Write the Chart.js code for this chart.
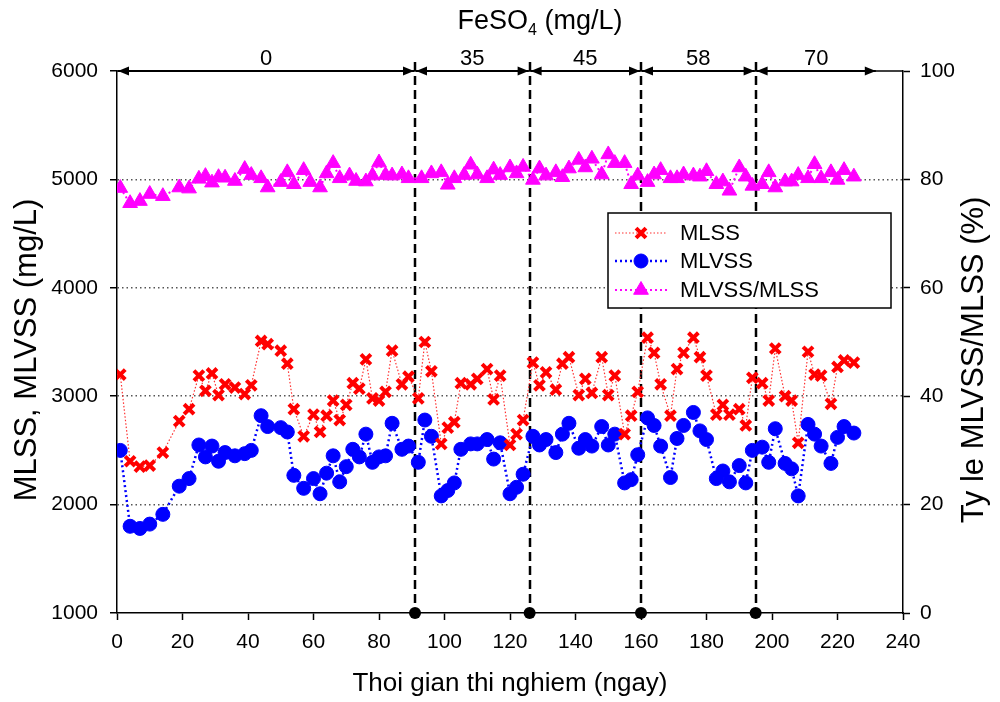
<!DOCTYPE html>
<html>
<head>
<meta charset="utf-8">
<title>MLSS, MLVSS - FeSO4</title>
<script src="https://cdn.jsdelivr.net/npm/chart.js@4/dist/chart.umd.min.js"></script>
<style>
    html, body { margin: 0; padding: 0; background: #fff; }
    #wrap { width: 1000px; height: 702px; position: relative; }
</style>
</head>
<body>
<div id="wrap"><canvas id="chart"></canvas></div>
<script>
// Du lieu doc tu hinh (ngay, mg/L)
const days = [1, 4, 7, 10, 14, 19, 22, 25, 27, 29, 31, 33, 36, 39, 41, 44, 46, 50, 52, 54,
    57, 60, 62, 64, 66, 68, 70, 72, 74, 76, 78, 80, 82, 84, 87, 89, 92, 94, 96, 99,
    101, 103, 105, 108, 110, 113, 115, 117, 120, 122, 124, 127, 129, 131, 134, 136, 138, 141, 143, 145,
    148, 150, 152, 155, 157, 159, 162, 164, 166, 169, 171, 173, 176, 178, 180, 183, 185, 187, 190, 192,
    194, 197, 199, 201, 204, 206, 208, 211, 213, 215, 218, 220, 222, 225];

const mlss = [3200, 2400, 2350, 2360, 2480, 2770, 2880, 3190, 3050, 3210, 3010, 3110, 3080, 3020, 3100, 3510, 3480, 3420, 3300, 2880,
    2630, 2830, 2670, 2820, 2960, 2780, 2920, 3120, 3070, 3340, 2980, 2960, 3040, 3420, 3110, 3180, 2980, 3500, 3230, 2560,
    2710, 2760, 3120, 3110, 3160, 3250, 2970, 3190, 2550, 2650, 2780, 3310, 3100, 3220, 3060, 3300, 3360, 3010, 3160, 3030,
    3360, 3010, 3190, 2650, 2820, 3040, 3540, 3400, 3110, 2820, 3250, 3400, 3540, 3360, 3190, 2830, 2920, 2830, 2880, 2730,
    3170, 3120, 2960, 3440, 3000, 2960, 2570, 3410, 3200, 3190, 2930, 3270, 3330, 3310];

const mlvss = [2500, 1800, 1780, 1820, 1910, 2170, 2240, 2550, 2440, 2540, 2400, 2480, 2450, 2470, 2500, 2820, 2720, 2710, 2670, 2270,
    2150, 2240, 2100, 2290, 2450, 2210, 2350, 2510, 2440, 2650, 2390, 2440, 2450, 2750, 2510, 2540, 2390, 2780, 2630, 2080,
    2130, 2200, 2510, 2560, 2560, 2600, 2420, 2570, 2100, 2160, 2280, 2630, 2550, 2600, 2480, 2650, 2750, 2520, 2600, 2540,
    2720, 2550, 2650, 2200, 2230, 2460, 2800, 2730, 2540, 2250, 2610, 2730, 2850, 2680, 2600, 2240, 2310, 2210, 2360, 2200,
    2500, 2530, 2390, 2700, 2380, 2330, 2080, 2740, 2650, 2540, 2380, 2620, 2720, 2660];

// Ty le MLVSS/MLSS (%)
const ratioDays = [1, 4, 7, 10, 14, 19, 22, 25, 27, 29, 31, 33, 36, 39, 41, 44, 46, 50, 52, 54,
    57, 59, 62, 64, 66, 68, 71, 73, 76, 78, 80, 82, 84, 87, 89, 93, 96, 99, 101, 103,
    106, 108, 110, 113, 115, 117, 120, 122, 124, 127, 129, 131, 134, 136, 138, 141, 143, 145, 148, 150,
    152, 155, 157, 159, 162, 164, 166, 169, 171, 173, 176, 178, 180, 183, 185, 187, 190, 192, 194, 197,
    199, 201, 204, 206, 208, 211, 213, 215, 218, 220, 222, 225];

const ratio = [78.4, 75.6, 76.0, 77.3, 76.9, 78.5, 78.3, 80.1, 80.6, 79.4, 80.4, 80.3, 79.7, 81.9, 80.8, 80.2, 78.5, 79.5, 81.3, 79.1,
    81.7, 79.5, 78.5, 81.1, 83.0, 80.2, 80.7, 79.7, 79.6, 80.7, 83.1, 80.8, 80.7, 80.9, 80.2, 80.2, 81.1, 81.3, 79.0, 80.2,
    80.8, 82.7, 80.9, 80.2, 81.8, 80.8, 82.2, 81.1, 82.3, 79.9, 82.0, 80.7, 81.3, 80.4, 82.0, 83.6, 82.2, 83.8, 80.9, 84.6,
    83.0, 83.0, 79.1, 80.7, 79.5, 80.9, 81.7, 80.2, 80.2, 80.9, 80.7, 80.5, 81.5, 79.1, 79.6, 77.9, 82.2, 80.5, 78.8, 79.1,
    81.3, 78.5, 79.6, 79.6, 80.8, 80.2, 82.8, 80.2, 81.3, 79.9, 81.7, 80.5];

// Cac giai doan lieu luong FeSO4
const phaseBounds = [91, 126, 160, 195];
const phaseStart = 0;
const phaseEnd = 232;
const phaseLabels = ['0', '35', '45', '58', '70'];

const FONT = "'Liberation Sans', Arial, Helvetica, sans-serif";

const toPoints = (xs, ys) => xs.map((d, i) => ({ x: d, y: ys[i] }));

// Ve chu thich, mui ten, tieu de
const overlayPlugin = {
    id: 'overlay',
    beforeDatasetsDraw(chart) {
        const { ctx, chartArea: a, scales: { x } } = chart;
        ctx.save();
        ctx.strokeStyle = '#000';
        ctx.lineWidth = 2.5;
        ctx.setLineDash([9, 5]);
        phaseBounds.forEach(d => {
            const px = Math.round(x.getPixelForValue(d));
            ctx.beginPath();
            ctx.moveTo(px, a.top - 9);
            ctx.lineTo(px, a.bottom);
            ctx.stroke();
        });
        ctx.restore();
    },
    afterDraw(chart) {
        const { ctx, chartArea: a, scales: { x } } = chart;
        ctx.save();

        // khung tren
        ctx.strokeStyle = '#000';
        ctx.lineWidth = 1.5;
        ctx.beginPath();
        ctx.moveTo(a.left, a.top);
        ctx.lineTo(a.right, a.top);
        ctx.stroke();

        // mui ten cac giai doan
        const edges = [phaseStart, ...phaseBounds, phaseEnd];
        ctx.fillStyle = '#000';
        ctx.lineWidth = 2;
        ctx.font = `22px ${FONT}`;
        ctx.textAlign = 'center';
        ctx.textBaseline = 'alphabetic';
        for (let i = 0; i < edges.length - 1; i++) {
            const x0 = x.getPixelForValue(edges[i]) + 1;
            const x1 = x.getPixelForValue(edges[i + 1]) - 1;
            const y = a.top;
            ctx.beginPath();
            ctx.moveTo(x0, y);
            ctx.lineTo(x1, y);
            ctx.stroke();
            ctx.beginPath();
            ctx.moveTo(x0, y); ctx.lineTo(x0 + 11, y - 4.5); ctx.lineTo(x0 + 11, y + 4.5); ctx.closePath();
            ctx.fill();
            ctx.beginPath();
            ctx.moveTo(x1, y); ctx.lineTo(x1 - 11, y - 4.5); ctx.lineTo(x1 - 11, y + 4.5); ctx.closePath();
            ctx.fill();
            ctx.fillText(phaseLabels[i], (x0 + x1) / 2, y - 6);
        }

        // tieu de tren: FeSO4 (mg/L)
        ctx.textAlign = 'left';
        ctx.textBaseline = 'alphabetic';
        const big = `27px ${FONT}`, small = `16px ${FONT}`;
        ctx.font = big;
        const w1 = ctx.measureText('FeSO').width;
        const w3 = ctx.measureText(' (mg/L)').width;
        ctx.font = small;
        const w2 = ctx.measureText('4').width;
        const tx = 540 - (w1 + w2 + w3) / 2;
        const ty = 29;
        ctx.font = big;
        ctx.fillText('FeSO', tx, ty);
        ctx.font = small;
        ctx.fillText('4', tx + w1, ty + 6);
        ctx.font = big;
        ctx.fillText(' (mg/L)', tx + w1 + w2, ty);

        // tieu de truc
        ctx.textAlign = 'center';
        ctx.textBaseline = 'middle';
        ctx.font = `26px ${FONT}`;
        ctx.fillText('Thoi gian thi nghiem (ngay)', (a.left + a.right) / 2, 684);

        ctx.font = `31px ${FONT}`;
        ctx.save();
        ctx.translate(27, 350);
        ctx.rotate(-Math.PI / 2);
        ctx.fillText('MLSS, MLVSS (mg/L)', 0, 0);
        ctx.restore();

        ctx.save();
        ctx.translate(974, 360);
        ctx.rotate(-Math.PI / 2);
        ctx.fillText('Ty le MLVSS/MLSS (%)', 0, 0);
        ctx.restore();

        // chu thich
        const box = { left: 608, top: 213, right: 891, bottom: 308 };
        ctx.fillStyle = '#fff';
        ctx.fillRect(box.left, box.top, box.right - box.left, box.bottom - box.top);
        ctx.strokeStyle = '#000';
        ctx.lineWidth = 1.5;
        ctx.strokeRect(box.left, box.top, box.right - box.left, box.bottom - box.top);

        const rowsY = [233, 261, 290];
        chart.data.datasets.slice(0, 3).forEach((ds, i) => {
            const y = rowsY[i];
            ctx.strokeStyle = ds.borderColor;
            ctx.lineWidth = ds.borderWidth;
            ctx.setLineDash(ds.borderDash);
            ctx.beginPath();
            ctx.moveTo(615, y);
            ctx.lineTo(667, y);
            ctx.stroke();
            ctx.setLineDash([]);
            ctx.fillStyle = ds.pointBackgroundColor;
            ctx.strokeStyle = ds.pointBorderColor;
            ctx.lineWidth = ds.pointBorderWidth;
            Chart.helpers.drawPoint(ctx, {
                pointStyle: ds.pointStyle,
                radius: ds.pointRadius,
                rotation: 0,
                borderWidth: ds.pointBorderWidth
            }, 641, y);
            ctx.fillStyle = '#000';
            ctx.font = `22px ${FONT}`;
            ctx.textAlign = 'left';
            ctx.textBaseline = 'middle';
            ctx.fillText(ds.label, 680, y + 1);
        });

        ctx.restore();
    }
};

const tickFont = { family: FONT, size: 21 };
const plain = v => String(v);

new Chart(document.getElementById('chart'), {
    type: 'line',
    data: {
        datasets: [
            {
                label: 'MLSS',
                data: toPoints(days, mlss),
                yAxisID: 'y',
                borderColor: '#ff3030',
                borderWidth: 1.2,
                borderDash: [1.5, 2],
                pointStyle: 'crossRot',
                pointRadius: 7,
                pointBorderWidth: 4,
                pointBorderColor: '#ff0000',
                pointBackgroundColor: '#ff0000'
            },
            {
                label: 'MLVSS',
                data: toPoints(days, mlvss),
                yAxisID: 'y',
                borderColor: '#0000ff',
                borderWidth: 2.5,
                borderDash: [2, 3],
                pointStyle: 'circle',
                pointRadius: 7,
                pointBorderWidth: 1,
                pointBorderColor: '#0000ff',
                pointBackgroundColor: '#0000ff'
            },
            {
                label: 'MLVSS/MLSS',
                data: toPoints(ratioDays, ratio),
                yAxisID: 'y1',
                borderColor: '#ff00ff',
                borderWidth: 2,
                borderDash: [2, 3],
                pointStyle: 'triangle',
                pointRadius: 8.5,
                pointBorderWidth: 1,
                pointBorderColor: '#ff00ff',
                pointBackgroundColor: '#ff00ff'
            },
            {
                label: 'phase',
                data: phaseBounds.map(d => ({ x: d, y: 1000 })),
                yAxisID: 'y',
                showLine: false,
                clip: false,
                pointStyle: 'circle',
                pointRadius: 6,
                pointBorderWidth: 0,
                pointBackgroundColor: '#000',
                pointBorderColor: '#000'
            }
        ]
    },
    options: {
        responsive: true,
        maintainAspectRatio: false,
        animation: false,
        events: [],
        layout: { padding: { top: 71, left: 0, right: 0, bottom: 0 } },
        plugins: {
            legend: { display: false },
            title: { display: false },
            tooltip: { enabled: false }
        },
        scales: {
            x: {
                type: 'linear',
                min: 0,
                max: 240,
                afterFit: s => { s.height = 89; },
                ticks: { stepSize: 20, color: '#000', font: tickFont, padding: 10, maxRotation: 0, callback: plain },
                grid: { drawOnChartArea: false, tickLength: 7, tickColor: '#000', tickWidth: 1.5 },
                border: { color: '#000', width: 1.5 }
            },
            y: {
                type: 'linear',
                position: 'left',
                min: 1000,
                max: 6000,
                afterFit: s => { s.width = 117; },
                ticks: { stepSize: 1000, color: '#000', font: tickFont, padding: 12, callback: plain },
                grid: {
                    color: c => (c.tick && (c.tick.value === 1000 || c.tick.value === 6000)) ? 'rgba(0,0,0,0)' : '#555',
                    lineWidth: 1.5,
                    tickLength: 7,
                    tickColor: '#000',
                    tickWidth: 1.5
                },
                border: { color: '#000', width: 1.5, dash: [1.5, 3] }
            },
            y1: {
                type: 'linear',
                position: 'right',
                min: 0,
                max: 100,
                afterFit: s => { s.width = 97; },
                ticks: { stepSize: 20, color: '#000', font: tickFont, padding: 10, callback: plain },
                grid: { drawOnChartArea: false, tickLength: 7, tickColor: '#000', tickWidth: 1.5 },
                border: { color: '#000', width: 1.5 }
            }
        }
    },
    plugins: [overlayPlugin]
});
</script>
</body>
</html>
